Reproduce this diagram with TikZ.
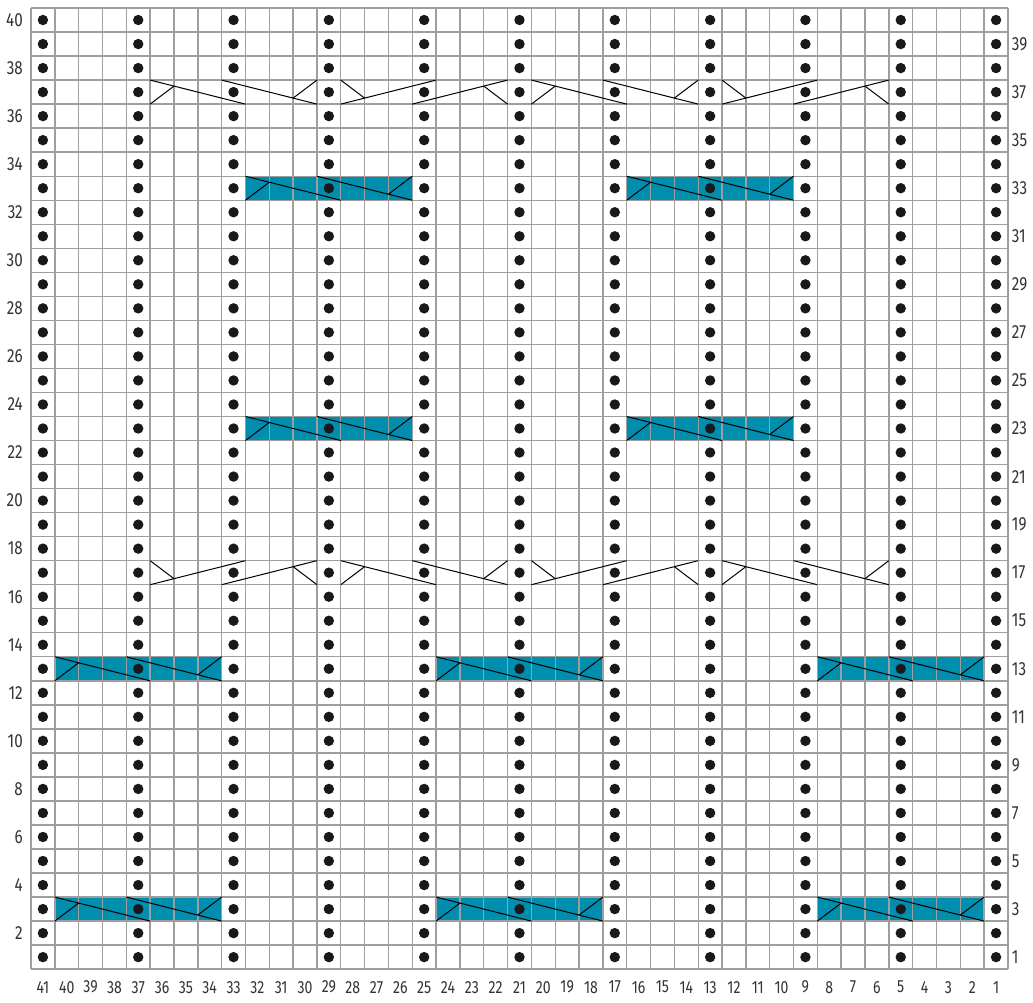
\documentclass[tikz,border=0pt]{standalone}
\usepackage{fontspec}
\setmainfont{Fira Sans}[FakeStretch=0.8]
\usetikzlibrary{positioning}
\definecolor{cableteal}{RGB}{0,142,175}
\definecolor{gridgray}{RGB}{158,158,158}
\definecolor{labelgray}{RGB}{51,51,51}

\begin{document}
\begin{tikzpicture}[
    x=11.915pt, y=12.015pt,
    gridline/.style={draw=gridgray, line width=0.7pt},
    purl/.style={fill=black!90},
    cablebox/.style={fill=cableteal},
    cross/.style={draw=black, line width=0.5pt},
    rowlabel/.style={font=\fontsize{9.5}{11}\selectfont, text=labelgray, inner sep=0pt},
    collabel/.style={font=\fontsize{8.8}{10}\selectfont, text=labelgray, inner sep=0pt}
]
\useasboundingbox (-1.301,-1.373) rectangle (42.05,40.333);

\foreach \r in {3,13} \foreach \u in {1,17,33}
    \fill[cablebox] (\u,\r-1) rectangle ++(7,1);
\foreach \r in {23,33} \foreach \u in {9,25}
    \fill[cablebox] (\u,\r-1) rectangle ++(7,1);

\foreach \i in {0,...,41} \draw[gridline] (\i,0) -- (\i,40);
\foreach \j in {0,...,40} \draw[gridline] (0,\j) -- (41,\j);

\foreach \u in {0,4,...,40} \foreach \r in {1,...,40}
    \fill[purl] (\u+0.5,\r-0.5) circle (2.6pt);

\foreach \r/\u in {3/1,3/17,3/33,13/1,13/17,13/33,23/9,23/25,33/9,33/25} {
  \begin{scope}[shift={(\u,\r-1)}]
    \draw[cross] (0,1) -- (4,0);
    \draw[cross] (3,1) -- (7,0);
    \draw[cross] (0,0) -- (1,0.75);
    \draw[cross] (7,1) -- (6,0.25);
  \end{scope}
}

\foreach \r/\s in {36/1,17/-1} \foreach \o in {0,16} {
  \begin{scope}[shift={(\o,\r)}, yscale=\s]
    \draw[cross] (5,1) -- (9,0);
    \draw[cross] (5,0) -- (6,0.75);
    \draw[cross] (8,1) -- (12,0);
    \draw[cross] (12,1) -- (11,0.25);
    \draw[cross] (13,0) -- (17,1);
    \draw[cross] (13,1) -- (14,0.25);
    \draw[cross] (16,0) -- (20,1);
    \draw[cross] (20,0) -- (19,0.75);
  \end{scope}
}

\foreach \c in {1,...,41}
    \node[collabel] (col\c) at (41.5-\c,-0.75) {\c};
\foreach \r in {2,4,...,40}
    \node[rowlabel, anchor=east] (row\r) at (-0.33,\r-0.5) {\r};
\foreach \r in {1,3,...,39}
    \node[rowlabel, anchor=west] (row\r) at (41.15,\r-0.5) {\r};
\end{tikzpicture}
\end{document}
